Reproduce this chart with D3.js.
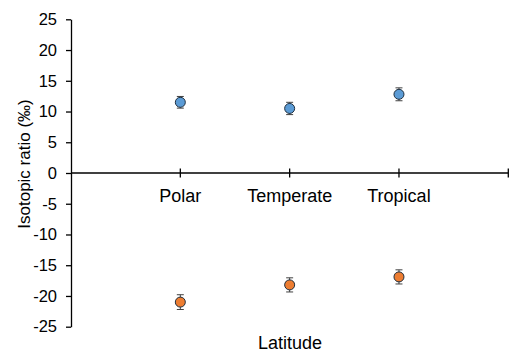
<!DOCTYPE html>
<html>
<head>
<meta charset="utf-8">
<script src="https://cdn.jsdelivr.net/npm/d3@7"></script>
<style>
  body { margin: 0; background: #fff; }
  text { font-family: "Liberation Sans", Arial, sans-serif; fill: #000; }
</style>
</head>
<body>
<svg id="chart" width="521" height="360"></svg>
<script>
// data
var categories = ['Polar', 'Temperate', 'Tropical'];
var upperValues = [11.5, 10.5, 12.8];
var upperErrors = [0.95, 1.0, 1.05];
var lowerValues = [-21.0, -18.2, -16.9];
var lowerErrors = [1.2, 1.15, 1.15];
var yTicks = [25, 20, 15, 10, 5, 0, -5, -10, -15, -20, -25];

var svg = d3.select('#chart');

var x = d3.scaleLinear().domain([0, 4]).range([71, 508.3]);
var y = d3.scaleLinear().domain([-25, 25]).range([326.7, 19.3]);

// y axis
var yAxis = d3.axisLeft(y).tickValues(yTicks).tickSize(5).tickSizeOuter(0).tickFormat(d3.format('d'));
var gy = svg.append('g').attr('transform', 'translate(71,0)').call(yAxis);
gy.select('.domain').attr('stroke', '#000').attr('stroke-width', 1.3);
gy.selectAll('.tick line').attr('stroke', '#000').attr('stroke-width', 1.3);
gy.selectAll('.tick text').attr('x', -14).attr('font-size', '16.5px')
  .attr('font-family', '"Liberation Sans", Arial, sans-serif').text(function (d) { return d < 0 ? '-' + Math.abs(d) : d; });

// x axis at zero, ticks crossing the line
var gx = svg.append('g').attr('transform', 'translate(0,' + y(0) + ')');
gx.append('line').attr('x1', x(0)).attr('x2', x(4)).attr('stroke', '#000').attr('stroke-width', 1.3);
gx.selectAll('line.tk').data([1, 2, 3, 4]).enter().append('line')
  .attr('class', 'tk')
  .attr('x1', function (d) { return x(d); }).attr('x2', function (d) { return x(d); })
  .attr('y1', -4.5).attr('y2', 4.5).attr('stroke', '#000').attr('stroke-width', 1.3);
gx.selectAll('text').data(categories).enter().append('text')
  .attr('x', function (d, i) { return x(i + 1); })
  .attr('y', 29)
  .attr('text-anchor', 'middle')
  .attr('font-size', '18px')
  .text(function (d) { return d; });

// series
function drawSeries(vals, errs, fill) {
  var g = svg.append('g');
  vals.forEach(function (v, i) {
    var cx = x(i + 1);
    var top = y(v + errs[i]), bot = y(v - errs[i]);
    g.append('line').attr('x1', cx).attr('x2', cx).attr('y1', top).attr('y2', bot).attr('stroke', '#404040').attr('stroke-width', 1);
    g.append('line').attr('x1', cx - 3.5).attr('x2', cx + 3.5).attr('y1', top).attr('y2', top).attr('stroke', '#404040').attr('stroke-width', 1);
    g.append('line').attr('x1', cx - 3.5).attr('x2', cx + 3.5).attr('y1', bot).attr('y2', bot).attr('stroke', '#404040').attr('stroke-width', 1);
    g.append('circle').attr('cx', cx).attr('cy', y(v)).attr('r', 5)
      .attr('fill', fill).attr('stroke', '#1f2f3f').attr('stroke-width', 1);
  });
}
drawSeries(upperValues, upperErrors, '#5B9BD5');
drawSeries(lowerValues, lowerErrors, '#ED7D31');

// axis titles
svg.append('text').attr('x', 290).attr('y', 349).attr('text-anchor', 'middle')
  .attr('font-size', '18px').text('Latitude');
svg.append('text').attr('transform', 'translate(29.5,164) rotate(-90)')
  .attr('text-anchor', 'middle').attr('font-size', '17px').text('Isotopic ratio (‰)');
</script>
</body>
</html>
